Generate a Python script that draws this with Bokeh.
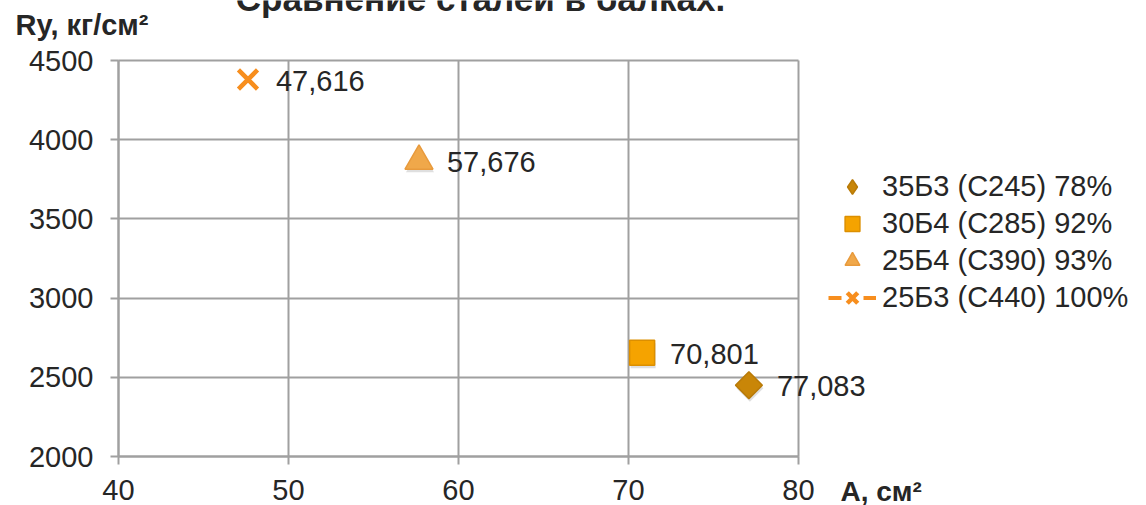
import math
from bokeh.plotting import figure
from bokeh.models import (Legend, LegendItem, Label, ColumnDataSource, Range1d, FixedTicker,
                          LinearAxis, Grid)
from bokeh.core.properties import value
from bokeh.transform import dodge
from bokeh.embed import file_html
from bokeh.resources import INLINE

# ---- data ----
series_names = ["35Б3 (С245) 78%", "30Б4 (С285) 92%", "25Б4 (С390) 93%", "25Б3 (С440) 100%"]
area_cm2 = [77.083, 70.801, 57.676, 47.616]
ry_kgcm2 = [2450, 2655, 3865, 4380]
x_ticks = [40, 50, 60, 70, 80]
y_ticks = [2000, 2500, 3000, 3500, 4000, 4500]
title_text = "Сравнение сталей в балках."
x_title = "A, см²"
y_title = "Ry, кг/см²"

FONT = "Liberation Sans"
GRID = "#a0a0a0"
TXT = "#262626"
FS = "29px"

# ---- layout: the frame fills the canvas; the plot box sits at px 118..798 x 60..456 ----
W, H = 1146, 505
BOX_L, BOX_R, BOX_T, BOX_B = 118, 798, 60, 456
xmin, xmax = x_ticks[0], x_ticks[-1]
ymin, ymax = y_ticks[0], y_ticks[-1]
xs = (xmax - xmin) / (BOX_R - BOX_L)
ys = (ymax - ymin) / (BOX_B - BOX_T)
x_range = Range1d(xmin - BOX_L * xs, xmax + (W - BOX_R) * xs)
y_range = Range1d(ymin - (H - BOX_B) * ys, ymax + BOX_T * ys)

p = figure(width=W, height=H, output_backend="svg", toolbar_location=None,
           x_range=x_range, y_range=y_range,
           x_axis_location=None, y_axis_location=None,
           min_border=0)
p.outline_line_color = None
p.background_fill_color = "white"
p.border_fill_color = "white"
p.xgrid.visible = False
p.ygrid.visible = False

xg = Grid(dimension=0, ticker=FixedTicker(ticks=x_ticks), cross_bounds=(ymin, ymax),
          grid_line_color=GRID, grid_line_width=2)
yg = Grid(dimension=1, ticker=FixedTicker(ticks=y_ticks), cross_bounds=(xmin, xmax),
          grid_line_color=GRID, grid_line_width=2)
p.add_layout(xg)
p.add_layout(yg)

xa = LinearAxis(fixed_location=ymin, bounds=(xmin, xmax), ticker=FixedTicker(ticks=x_ticks))
ya = LinearAxis(fixed_location=xmin, bounds=(ymin, ymax), ticker=FixedTicker(ticks=y_ticks))
for ax in (xa, ya):
    ax.axis_line_color = GRID
    ax.axis_line_width = 2
    ax.major_tick_line_color = GRID
    ax.major_tick_line_width = 2
    ax.major_tick_in = 0
    ax.major_tick_out = 8
    ax.minor_tick_line_color = None
    ax.major_label_text_font = FONT
    ax.major_label_text_font_size = FS
    ax.major_label_text_color = TXT
xa.major_label_standoff = 15
ya.major_label_standoff = 17
p.add_layout(xa, "below")
p.add_layout(ya, "left")

markers = ["square", "square", "triangle", "x"]
legend_markers = ["diamond", "square", "triangle", "x"]
angles = [math.pi / 4, 0, 0, 0]
fills = ["#c98608", "#f5a300", "#f0a84a", "#f78e1e"]
lines = ["#b87a08", "#dc8f00", "#e89a3c", "#f78e1e"]
sizes = [19, 25, 28, 27]

items = []
for i in range(4):
    src = ColumnDataSource(dict(x=[area_cm2[i]], y=[ry_kgcm2[i]],
                                lab=[f"{area_cm2[i]:.3f}".replace(".", ",")]))
    # legend-only proxy (no visible data), so the legend swatch can differ from the plot marker
    proxy = ColumnDataSource(dict(x=[float("nan")], y=[float("nan")]))
    if markers[i] != "x":
        # soft shadow
        p.scatter(dodge("x", 1 * xs, range=p.x_range), dodge("y", -3 * ys, range=p.y_range),
                  source=src, marker=markers[i], size=sizes[i], angle=angles[i],
                  fill_color="#808080", fill_alpha=0.25, line_color=None)
        p.scatter("x", "y", source=src, marker=markers[i], size=sizes[i], angle=angles[i],
                  fill_color=fills[i], line_color=lines[i], line_width=1.5)
        lr = p.scatter("x", "y", source=proxy, marker=legend_markers[i], size=sizes[i],
                       fill_color=fills[i], line_color=lines[i], line_width=1.5)
        rs = [lr]
    else:
        ln = p.line("x", "y", source=src, line_color=fills[i], line_width=4, line_dash="13 22")
        r = p.scatter("x", "y", source=src, marker="x", size=sizes[i],
                      line_color=fills[i], line_width=4.5)
        rs = [ln, r]
    p.text("x", "y", text="lab", source=src, x_offset=28, y_offset=1,
           text_baseline="middle", text_align="left",
           text_font=value(FONT), text_font_size=FS, text_color=TXT)
    items.append(LegendItem(label=series_names[i], renderers=rs))

legend = Legend(items=items, location=(828, H - 316), orientation="vertical",
                label_text_font=FONT, label_text_font_size=FS, label_text_color=TXT,
                glyph_width=48, glyph_height=37, label_height=37, spacing=0,
                label_standoff=6, border_line_color=None, background_fill_alpha=0,
                padding=0, margin=0)
p.add_layout(legend)

# labels: screen coords from the frame's bottom-left (= canvas bottom-left)
p.add_layout(Label(x=480, y=H + 2, x_units="screen", y_units="screen", text=title_text,
                   text_font=FONT, text_font_style="bold", text_font_size="35px",
                   text_align="center", text_baseline="alphabetic", text_color=TXT))
p.add_layout(Label(x=15, y=H - 24, x_units="screen", y_units="screen", text=y_title,
                   text_font=FONT, text_font_style="bold", text_font_size="29px",
                   text_align="left", text_baseline="alphabetic", text_color=TXT))
p.add_layout(Label(x=840, y=14, x_units="screen", y_units="screen", text=x_title,
                   text_font=FONT, text_font_style="bold", text_font_size="28px",
                   text_align="left", text_baseline="alphabetic", text_color=TXT))

open("out.html", "w").write(file_html(p, INLINE))
